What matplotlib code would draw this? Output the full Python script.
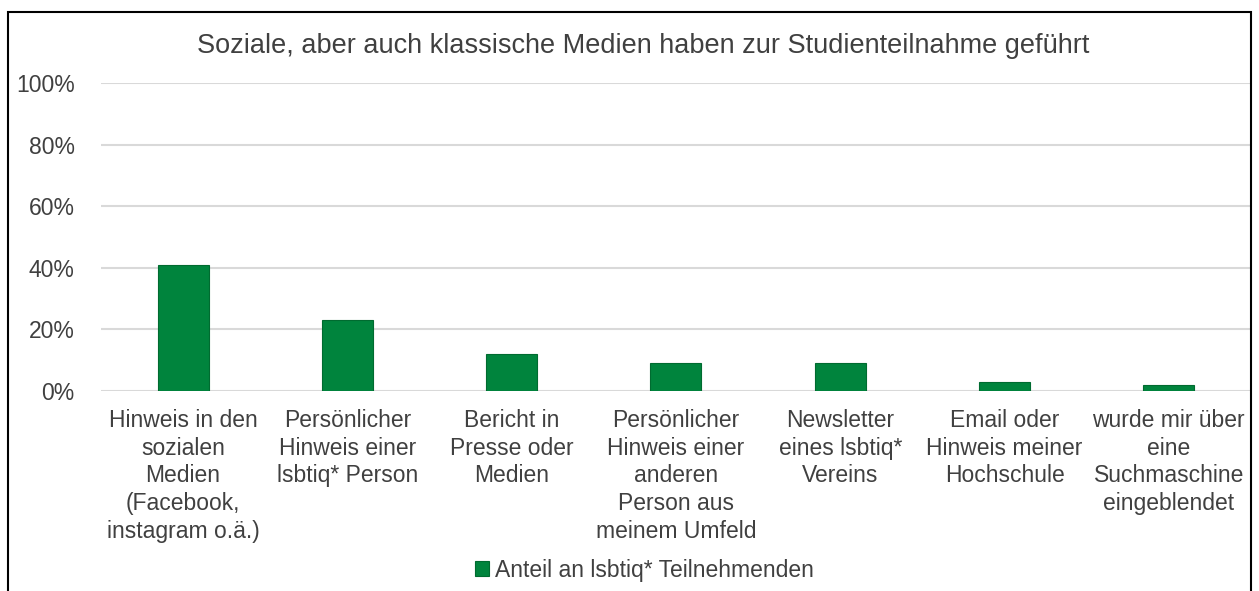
import matplotlib
matplotlib.use("Agg")
import matplotlib.pyplot as plt
from matplotlib.patches import Rectangle
from matplotlib.ticker import FuncFormatter

categories = [
    "Hinweis in den\nsozialen\nMedien\n(Facebook,\ninstagram o.ä.)",
    "Persönlicher\nHinweis einer\nlsbtiq* Person",
    "Bericht in\nPresse oder\nMedien",
    "Persönlicher\nHinweis einer\nanderen\nPerson aus\nmeinem Umfeld",
    "Newsletter\neines lsbtiq*\nVereins",
    "Email oder\nHinweis meiner\nHochschule",
    "wurde mir über\neine\nSuchmaschine\neingeblendet",
]
values = [41, 23, 12, 9, 9, 3, 2]
series_name = "Anteil an lsbtiq* Teilnehmenden"
title = "Soziale, aber auch klassische Medien haben zur Studienteilnahme geführt"
yticks = [0, 20, 40, 60, 80, 100]

plt.rcParams['font.family'] = ['Liberation Sans', 'DejaVu Sans']

fig = plt.figure(figsize=(12.59, 5.91), dpi=100)
ax = fig.add_axes([0.0802, 0.3384, 0.9134, 0.5212])

x = range(len(categories))
ax.bar(x, values, width=0.31, color="#00843D", edgecolor="#006B30", linewidth=0.8,
       label=series_name, zorder=3)

ax.set_ylim(0, 100)
ax.set_xlim(-0.5, len(categories) - 0.5)
ax.set_yticks(yticks)
ax.yaxis.set_major_formatter(FuncFormatter(lambda v, p: f"{int(v)}%"))
ax.grid(axis="y", color="#D9D9D9", linewidth=1.5, zorder=0)
ax.set_xticks(list(x))
ax.set_xticklabels(categories, fontsize=16.5, color="#404040", linespacing=1.26)
ax.tick_params(axis="y", labelsize=16.5, labelcolor="#404040", length=0, pad=19)
ax.tick_params(axis="x", length=0, pad=13)
for s in ax.spines.values():
    s.set_visible(False)

fig.text(0.511, 0.922, title, ha="center", va="center", fontsize=19.5, color="#404040")

leg = fig.legend(loc="center", bbox_to_anchor=(0.512, 0.035), frameon=False,
                 fontsize=16.5, handlelength=0.6, handleheight=0.6, handletextpad=0.3)
for t in leg.get_texts():
    t.set_color("#404040")

fig.patches.append(Rectangle((8 / 1259, -0.05), 1243 / 1259, 1.05 - 12 / 591,
                             transform=fig.transFigure, fill=False,
                             edgecolor="black", linewidth=1.5))

fig.savefig("out.png", dpi=100)
